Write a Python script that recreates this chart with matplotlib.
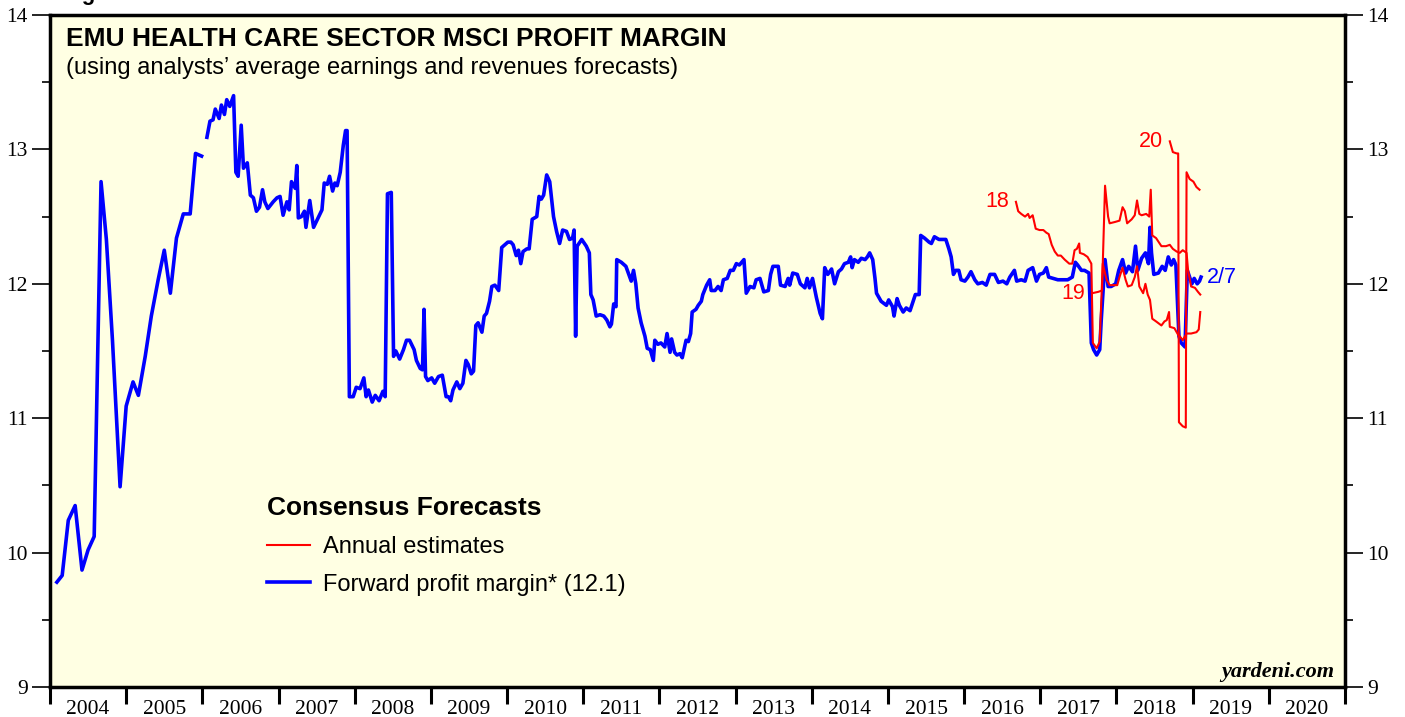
import numpy as np
import matplotlib.pyplot as plt
from matplotlib.lines import Line2D
from matplotlib.ticker import MultipleLocator, FixedLocator, NullFormatter, FixedFormatter

BG = "#ffffe3"
SANS = "Liberation Sans"
SERIF = "Liberation Serif"

# forward profit margin, decimal year / percent (nan = gap in the series)
fwd_t = [2004.09, 2004.16, 2004.24, 2004.33, 2004.42, 2004.50, 2004.58, 2004.67, 2004.74, 2004.82,
         2004.92, 2005.00, 2005.09, 2005.16, 2005.25, 2005.33, 2005.42, 2005.50, 2005.58, 2005.66,
         2005.75, 2005.84, 2005.91, 2005.99, 2006.02,
         2006.06, 2006.10, 2006.14, 2006.17, 2006.22, 2006.25, 2006.29, 2006.32, 2006.36, 2006.41,
         2006.44, 2006.47, 2006.51, 2006.54, 2006.59, 2006.63, 2006.67, 2006.71, 2006.75, 2006.79,
         2006.82, 2006.86, 2006.93, 2006.98, 2007.02, 2007.06, 2007.11, 2007.14, 2007.17, 2007.22,
         2007.24, 2007.26, 2007.30, 2007.34, 2007.36, 2007.41, 2007.46, 2007.52, 2007.57, 2007.60,
         2007.64, 2007.67, 2007.71, 2007.74, 2007.77, 2007.81, 2007.85, 2007.88, 2007.90, 2007.93,
         2007.98, 2008.02, 2008.07, 2008.12, 2008.15, 2008.18, 2008.23, 2008.27, 2008.32, 2008.37,
         2008.40, 2008.43, 2008.48, 2008.51, 2008.54, 2008.59, 2008.64, 2008.68, 2008.72, 2008.78,
         2008.81, 2008.86, 2008.89, 2008.91, 2008.93, 2008.96, 2009.01, 2009.05, 2009.10, 2009.15,
         2009.20, 2009.23, 2009.26, 2009.29, 2009.34, 2009.38, 2009.42, 2009.46, 2009.49, 2009.53,
         2009.56, 2009.59, 2009.62, 2009.67, 2009.70, 2009.73, 2009.77, 2009.80, 2009.84, 2009.89,
         2009.93, 2009.97, 2010.01, 2010.05, 2010.08, 2010.12, 2010.15, 2010.18, 2010.21, 2010.26,
         2010.29, 2010.33, 2010.39, 2010.42, 2010.45, 2010.48, 2010.52, 2010.56, 2010.61, 2010.65,
         2010.69, 2010.73, 2010.78, 2010.82, 2010.86, 2010.88, 2010.90, 2010.92, 2010.98, 2011.04,
         2011.08, 2011.10, 2011.13, 2011.17, 2011.22, 2011.27, 2011.31, 2011.35, 2011.37, 2011.40,
         2011.43, 2011.44, 2011.50, 2011.56, 2011.61, 2011.63, 2011.66, 2011.69, 2011.72, 2011.76,
         2011.81, 2011.84, 2011.88, 2011.92, 2011.94, 2011.98, 2012.02, 2012.07, 2012.10, 2012.14,
         2012.16, 2012.20, 2012.23, 2012.27, 2012.30, 2012.35, 2012.38, 2012.41, 2012.43, 2012.48,
         2012.51, 2012.55, 2012.57, 2012.62, 2012.66, 2012.68, 2012.73, 2012.77, 2012.81, 2012.84,
         2012.89, 2012.93, 2012.97, 2013.01, 2013.05, 2013.11, 2013.14, 2013.19, 2013.24, 2013.27,
         2013.32, 2013.37, 2013.43, 2013.46, 2013.49, 2013.56, 2013.59, 2013.65, 2013.69, 2013.71,
         2013.75, 2013.81, 2013.85, 2013.91, 2013.94, 2013.97, 2014.01, 2014.06, 2014.11, 2014.14,
         2014.17, 2014.21, 2014.26, 2014.30, 2014.35, 2014.39, 2014.43, 2014.48, 2014.51, 2014.53,
         2014.56, 2014.61, 2014.65, 2014.70, 2014.73, 2014.76, 2014.80, 2014.83, 2014.85, 2014.91,
         2014.98, 2015.01, 2015.06, 2015.08, 2015.12, 2015.15, 2015.20, 2015.24, 2015.29, 2015.33,
         2015.36, 2015.41, 2015.43, 2015.48, 2015.54, 2015.57, 2015.61, 2015.67, 2015.76, 2015.80,
         2015.83, 2015.86, 2015.89, 2015.93, 2015.96, 2016.01, 2016.05, 2016.09, 2016.14, 2016.18,
         2016.24, 2016.29, 2016.34, 2016.40, 2016.45, 2016.51, 2016.56, 2016.60, 2016.66, 2016.69,
         2016.75, 2016.80, 2016.84, 2016.90, 2016.95, 2016.99, 2017.04, 2017.08, 2017.11, 2017.17,
         2017.23, 2017.36, 2017.42, 2017.46, 2017.49, 2017.54, 2017.58, 2017.64, 2017.67, 2017.70,
         2017.74, 2017.78, 2017.80, 2017.85, 2017.89, 2017.93, 2017.99, 2018.03, 2018.08, 2018.12,
         2018.16, 2018.21, 2018.25, 2018.28, 2018.33, 2018.38, 2018.42, 2018.44, 2018.46, 2018.49,
         2018.55, 2018.60, 2018.64, 2018.68, 2018.72, 2018.75, 2018.78, 2018.82, 2018.85, 2018.90,
         2018.93, 2018.96, 2018.99, 2019.02, 2019.06, 2019.09, 2019.11]
fwd_v = [9.78, 9.83, 10.24, 10.35, 9.87, 10.02, 10.12, 12.76, 12.33, 11.58,
         10.49, 11.09, 11.27, 11.17, 11.46, 11.76, 12.03, 12.25, 11.93, 12.34,
         12.52, 12.52, 12.97, 12.95, np.nan,
         13.09, 13.21, 13.22, 13.30, 13.23, 13.33, 13.26, 13.37, 13.32, 13.40,
         12.83, 12.80, 13.18, 12.86, 12.90, 12.66, 12.64, 12.54, 12.57, 12.70,
         12.61, 12.56, 12.61, 12.64, 12.65, 12.51, 12.61, 12.55, 12.76, 12.71,
         12.88, 12.49, 12.50, 12.54, 12.42, 12.62, 12.42, 12.49, 12.55, 12.75,
         12.74, 12.80, 12.69, 12.75, 12.73, 12.83, 13.03, 13.14, 13.14, 11.16,
         11.16, 11.23, 11.22, 11.30, 11.16, 11.21, 11.12, 11.17, 11.13, 11.20,
         11.16, 12.67, 12.68, 11.46, 11.50, 11.44, 11.51, 11.58, 11.58, 11.51,
         11.43, 11.37, 11.36, 11.81, 11.31, 11.28, 11.30, 11.26, 11.31, 11.32,
         11.16, 11.16, 11.13, 11.21, 11.27, 11.22, 11.26, 11.43, 11.40, 11.33,
         11.35, 11.69, 11.71, 11.64, 11.76, 11.78, 11.87, 11.98, 11.99, 11.95,
         12.27, 12.29, 12.31, 12.31, 12.29, 12.21, 12.25, 12.15, 12.24, 12.26,
         12.26, 12.48, 12.50, 12.65, 12.63, 12.66, 12.81, 12.76, 12.50, 12.39,
         12.30, 12.40, 12.39, 12.33, 12.34, 12.40, 11.61, 12.28, 12.33, 12.28,
         12.23, 11.92, 11.88, 11.76, 11.77, 11.76, 11.73, 11.68, 11.70, 11.85,
         11.83, 12.18, 12.16, 12.13, 12.05, 12.02, 12.10, 12.00, 11.82, 11.71,
         11.61, 11.52, 11.51, 11.43, 11.58, 11.55, 11.56, 11.53, 11.63, 11.49,
         11.59, 11.49, 11.47, 11.48, 11.45, 11.58, 11.57, 11.63, 11.79, 11.81,
         11.84, 11.87, 11.92, 11.99, 12.03, 11.95, 11.95, 11.98, 11.95, 12.03,
         12.04, 12.10, 12.10, 12.15, 12.14, 12.18, 11.93, 11.98, 11.97, 12.03,
         12.04, 11.94, 11.95, 12.07, 12.13, 12.13, 11.99, 11.98, 12.04, 11.99,
         12.08, 12.07, 12.00, 11.97, 12.04, 11.97, 12.04, 11.90, 11.78, 11.74,
         12.12, 12.07, 12.11, 12.00, 12.09, 12.11, 12.15, 12.16, 12.20, 12.12,
         12.18, 12.16, 12.19, 12.18, 12.20, 12.23, 12.18, 12.04, 11.93, 11.87,
         11.84, 11.88, 11.83, 11.76, 11.89, 11.84, 11.79, 11.82, 11.80, 11.87,
         11.92, 11.92, 12.36, 12.34, 12.31, 12.30, 12.35, 12.33, 12.33, 12.26,
         12.20, 12.07, 12.10, 12.10, 12.03, 12.02, 12.05, 12.09, 12.03, 12.00,
         12.01, 11.99, 12.07, 12.07, 12.01, 12.02, 12.00, 12.05, 12.10, 12.02,
         12.03, 12.02, 12.10, 12.12, 12.02, 12.07, 12.08, 12.12, 12.05, 12.04,
         12.03, 12.03, 12.05, 12.16, 12.14, 12.10, 12.10, 12.08, 11.56, 11.51,
         11.47, 11.51, 11.73, 12.18, 11.98, 11.98, 12.00, 12.10, 12.18, 12.08,
         12.13, 12.09, 12.28, 12.10, 12.19, 12.23, 12.15, 12.42, 12.23, 12.07,
         12.08, 12.13, 12.10, 12.20, 12.14, 12.18, 12.14, 11.61, 11.56, 11.53,
         12.10, 12.05, 12.00, 12.04, 12.00, 12.02, 12.05]

# annual consensus estimates
est18_t = [2016.68, 2016.71, 2016.75, 2016.80, 2016.84, 2016.86, 2016.90, 2016.94, 2016.99, 2017.04,
           2017.08, 2017.11, 2017.15, 2017.19, 2017.23, 2017.27, 2017.32, 2017.38, 2017.42, 2017.45,
           2017.48, 2017.51, 2017.52, 2017.57, 2017.62, 2017.67, 2017.69, 2017.74, 2017.78, 2017.82,
           2017.87, 2017.91, 2018.01, 2018.04, 2018.08, 2018.12, 2018.15, 2018.20, 2018.24, 2018.27,
           2018.30, 2018.35, 2018.38, 2018.41, 2018.44, 2018.47, 2018.52, 2018.59, 2018.63, 2018.66,
           2018.69, 2018.70, 2018.76, 2018.81, 2018.83, 2018.87, 2018.92, 2018.98, 2019.05, 2019.08,
           2019.10]
est18_v = [12.61, 12.54, 12.52, 12.50, 12.52, 12.49, 12.51, 12.41, 12.40, 12.40,
           12.38, 12.37, 12.29, 12.24, 12.21, 12.21, 12.18, 12.15, 12.15, 12.25,
           12.26, 12.30, 12.23, 12.22, 12.20, 12.15, 11.56, 11.52, 11.57, 12.15,
           12.03, 11.99, 11.99, 12.05, 12.12, 12.03, 11.98, 11.99, 12.05, 12.13,
           11.98, 11.93, 12.00, 11.92, 11.88, 11.74, 11.72, 11.69, 11.72, 11.73,
           11.79, 11.68, 11.67, 11.62, 11.61, 11.58, 11.63, 11.63, 11.64, 11.66,
           11.79]
est19_t = [2017.68, 2017.76, 2017.81, 2017.85, 2017.89, 2017.91, 2017.98, 2018.04, 2018.08, 2018.11,
           2018.14, 2018.20, 2018.24, 2018.27, 2018.30, 2018.33, 2018.39, 2018.43, 2018.45, 2018.47,
           2018.52, 2018.59, 2018.65, 2018.70, 2018.74, 2018.79, 2018.83, 2018.87, 2018.92, 2018.94,
           2018.98, 2019.03, 2019.07, 2019.10]
est19_v = [11.93, 11.94, 11.95, 12.73, 12.50, 12.45, 12.46, 12.47, 12.57, 12.54,
           12.45, 12.48, 12.51, 12.62, 12.52, 12.51, 12.52, 12.50, 12.70, 12.36,
           12.34, 12.28, 12.28, 12.29, 12.26, 12.24, 12.23, 12.25, 12.23, 12.10,
           11.98, 11.97, 11.94, 11.92]
est20_t = [2018.70, 2018.74, 2018.79, 2018.81, 2018.82, 2018.87, 2018.91, 2018.92, 2018.96, 2019.01,
           2019.05, 2019.09]
est20_v = [13.06, 12.98, 12.97, 12.97, 10.97, 10.94, 10.93, 12.83, 12.78, 12.76,
           12.72, 12.70]

years = list(range(2004, 2021))

fig = plt.figure(figsize=(14.05, 7.17), dpi=100)
ax = fig.add_axes([50 / 1405, 30 / 717, 1295 / 1405, 672 / 717])
ax.set_facecolor(BG)

for t, v, lab in [(est18_t, est18_v, "18"), (est19_t, est19_v, "19"), (est20_t, est20_v, "20")]:
    ax.plot(t, v, color="#ff0000", linewidth=1.5, zorder=3)
    ax.annotate(lab, (t[0], v[0]), xytext=(-5, 0), textcoords="offset points",
                ha="right", va="center", color="#ff0000", fontsize=15.5, family=SANS)

ax.plot(fwd_t, fwd_v, color="#0000ff", linewidth=2.6, zorder=2)
ax.annotate("2/7", (fwd_t[-1], fwd_v[-1]), xytext=(4, 0), textcoords="offset points",
            ha="left", va="center", color="#0000ff", fontsize=15.5, family=SANS)

ax.set_xlim(2004, 2021)
ax.set_ylim(9, 14)

for side in ["left", "right", "top", "bottom"]:
    ax.spines[side].set_linewidth(2.5)

ax.yaxis.set_major_locator(MultipleLocator(1))
ax.yaxis.set_minor_locator(MultipleLocator(0.5))
ax.tick_params(axis="y", which="both", left=True, right=True, labelleft=True, labelright=True,
               direction="out", width=1.2, labelsize=15.5)
ax.tick_params(axis="y", which="major", length=13, pad=3)
ax.tick_params(axis="y", which="minor", length=6)

ax.xaxis.set_major_locator(FixedLocator(range(2004, 2022)))
ax.xaxis.set_major_formatter(NullFormatter())
ax.xaxis.set_minor_locator(FixedLocator([y + 0.5 for y in years]))
ax.xaxis.set_minor_formatter(FixedFormatter([str(y) for y in years]))
ax.tick_params(axis="x", which="major", direction="out", length=12, width=2.2)
ax.tick_params(axis="x", which="minor", length=0, labelsize=15.5, pad=9.5)
for lbl in ax.xaxis.get_ticklabels(which="both") + ax.yaxis.get_ticklabels(which="both"):
    lbl.set_family(SERIF)

ax.text(0.012, 0.964, "EMU HEALTH CARE SECTOR MSCI PROFIT MARGIN", transform=ax.transAxes,
        fontsize=19, fontweight="bold", family=SANS, va="center", ha="left")
ax.text(0.012, 0.921, "(using analysts\u2019 average earnings and revenues forecasts)",
        transform=ax.transAxes, fontsize=17, family=SANS, va="center", ha="left")
ax.text(0.992, 0.022, "yardeni.com", transform=ax.transAxes, fontsize=16,
        fontweight="bold", style="italic", family=SERIF, ha="right", va="center")
fig.text(62 / 1405, 1.008, "Figure 6.", fontsize=16, fontweight="bold", family=SANS,
         va="center", ha="left")

handles = [Line2D([], [], color="#ff0000", linewidth=1.5),
           Line2D([], [], color="#0000ff", linewidth=2.6)]
leg = ax.legend(handles, ["Annual estimates", "Forward profit margin* (12.1)"],
                title="Consensus Forecasts", loc="upper left", bbox_to_anchor=(0.151, 0.3165),
                frameon=False, handlelength=1.85, handletextpad=0.55,
                labelspacing=0.65, alignment="left",
                prop={"family": SANS, "size": 17},
                title_fontproperties={"family": SANS, "size": 19, "weight": "bold"})
leg._legend_box.sep = 12

fig.savefig("out.png", dpi=100, facecolor="white")
